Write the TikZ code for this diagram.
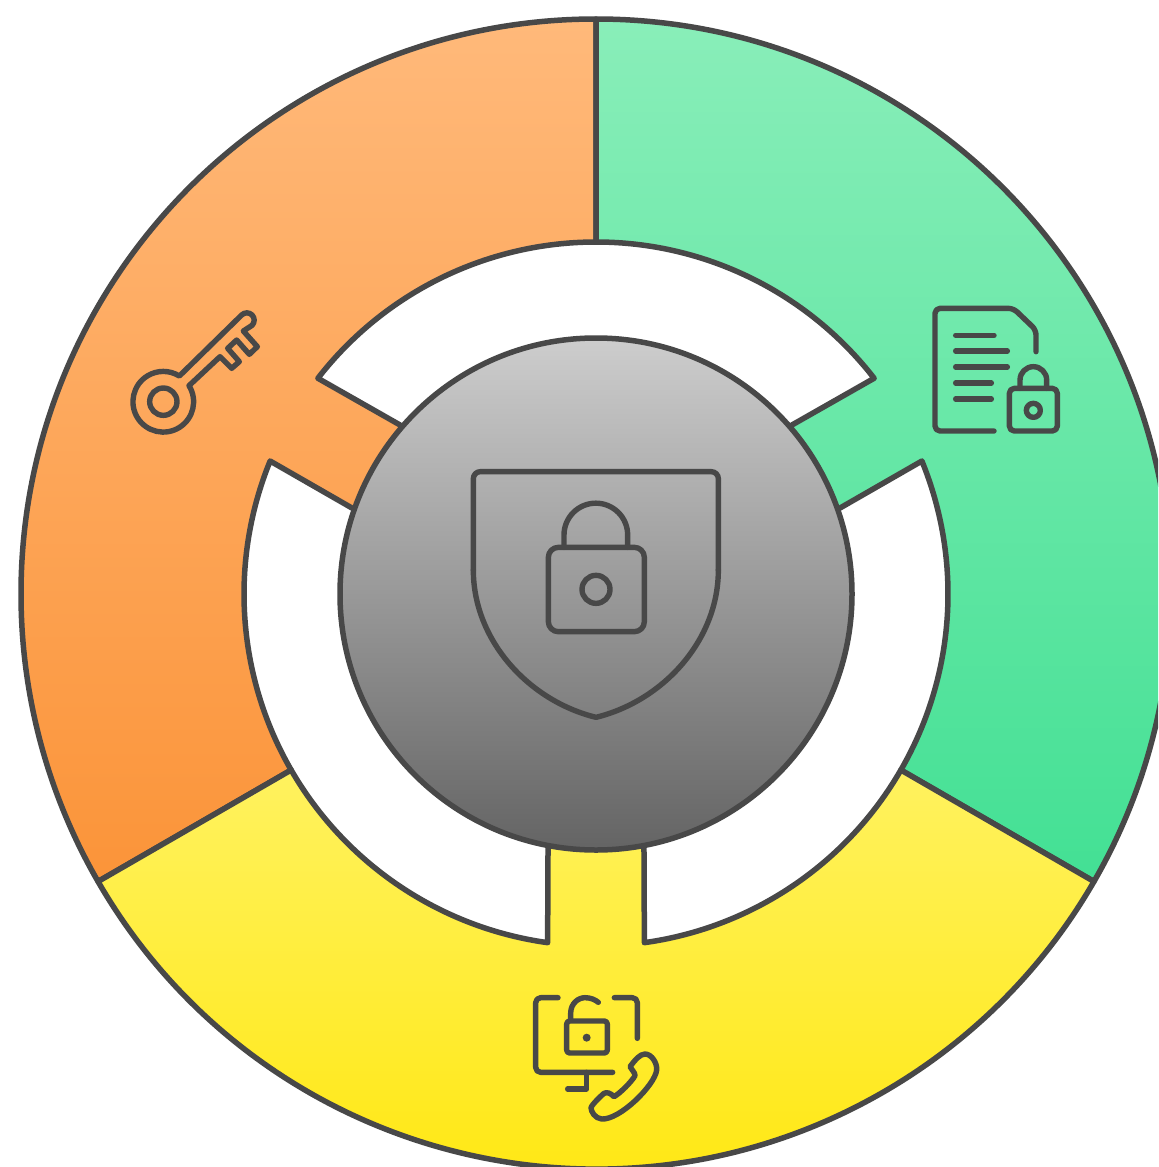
\documentclass[tikz,border=0pt]{standalone}
\definecolor{ink}{HTML}{484848}
\definecolor{greenT}{HTML}{89EEB9}
\definecolor{greenB}{HTML}{43E094}
\definecolor{orangeT}{HTML}{FFB97A}
\definecolor{orangeB}{HTML}{FB9439}
\definecolor{yellowT}{HTML}{FFF25F}
\definecolor{yellowB}{HTML}{FFE607}
\definecolor{greyT}{HTML}{CDCDCD}
\definecolor{greyB}{HTML}{646464}
\tikzset{
  seg/.style={draw=ink,line width=2.75pt,line join=round},
  thinline/.style={draw=ink,line width=2.7pt,line cap=round,line join=round},
  zoomed/.style={x=.16667pt,y=.16667pt}
}
\begin{document}
\begin{tikzpicture}[x=.5pt,y=.5pt]
\useasboundingbox (0,0) rectangle (1158,-1167);
\clip (0,0) rectangle (1158,-1167);
\fill[white] (0,0) rectangle (1158,-1167);
\begin{scope}[shift={(596,-594)}]
  % orange
  \path[seg,top color=orangeT,bottom color=orangeB]
    (90:575) arc (90:210:575) -- (210:352) arc (210:157.8:352)
    -- (160.7:256) -- (139.1:256) -- (142.2:352) arc (142.2:90:352) -- cycle;
  % green
  \path[seg,top color=greenT,bottom color=greenB]
    (90:575) arc (90:-30:575) -- (-30:352) arc (-30:22.2:352)
    -- (19.3:256) -- (40.9:256) -- (37.8:352) arc (37.8:90:352) -- cycle;
  % yellow
  \path[seg,top color=yellowT,bottom color=yellowB]
    (210:575) arc (210:330:575) -- (330:352) arc (330:277.9:352)
    -- (280.8:256) -- (259.2:256) -- (262.1:352) arc (262.1:210:352) -- cycle;
  % centre
  \path[seg,top color=greyT,bottom color=greyB] (0,0) circle (256);
\end{scope}
% key
\begin{scope}[shift={(120,-295)},zoomed]
  \draw[thinline] (130,-320) circle (41);
  \draw[thinline] (207,-272) arc (32:-302:91)
    -- (365,-60) arc (135:-45:22) -- (370,-108) -- (412,-155) -- (388,-178)
    -- (350,-135) -- (323,-160) -- (358,-200) -- (335,-220) -- (300,-185) -- cycle;
\end{scope}
% document with lock
\begin{scope}[shift={(920,-295)},zoomed]
  \draw[thinline,rounded corners=2.5pt] (222,-408) -- (45,-408) -- (45,-40) -- (280,-40) -- (348,-105) -- (348,-170);
  \draw[thinline] (107,-121) -- (222,-121) (107,-168) -- (262,-168) (107,-216) -- (262,-216)
    (107,-264) -- (214,-264) (107,-312) -- (214,-312);
  \draw[thinline,rounded corners=2.5pt] (268,-280) rectangle (412,-408);
  \draw[thinline] (300,-280) -- (300,-255) arc (180:0:40) -- (380,-280);
  \draw[thinline] (340,-346) circle (21);
\end{scope}
% monitor with phone
\begin{scope}[shift={(520,-985)},zoomed]
  \draw[thinline,rounded corners=2.5pt] (114,-38) -- (47,-38) -- (47,-262) -- (278,-262);
  \draw[thinline,rounded corners=2.5pt] (283,-38) -- (352,-38) -- (352,-160);
  \draw[thinline] (200,-262) -- (200,-312) -- (143,-312);
  \draw[thinline,rounded corners=1.5pt] (140,-108) rectangle (262,-204);
  \draw[thinline] (152,-105) -- (152,-85) .. controls (152,-55) and (175,-38) .. (195,-38)
    .. controls (212,-38) and (225,-44) .. (235,-52);
  \fill[ink] (200,-158) circle (12);
  \draw[thinline] (330,-245) .. controls (345,-225) and (360,-207) .. (375,-207)
    .. controls (395,-207) and (412,-235) .. (410,-255)
    .. controls (405,-300) and (300,-405) .. (245,-402)
    .. controls (225,-400) and (213,-380) .. (213,-368)
    .. controls (215,-360) and (240,-335) .. (252,-325)
    .. controls (262,-320) and (272,-325) .. (282,-335)
    .. controls (300,-325) and (335,-290) .. (345,-272)
    .. controls (345,-262) and (335,-255) .. (330,-245) -- cycle;
\end{scope}
% shield with lock
\begin{scope}[shift={(460,-460)},zoomed]
  \draw[thinline,rounded corners=3.5pt] (40,-330) -- (40,-35) -- (775,-35) -- (775,-330);
  \draw[thinline] (40,-330) .. controls (40,-540) and (205,-722) .. (408,-772)
    .. controls (611,-722) and (775,-540) .. (775,-330);
  \draw[thinline,rounded corners=5pt] (265,-262) rectangle (553,-515);
  \draw[thinline] (312,-262) -- (312,-225) arc (180:0:95.5) -- (503,-262);
  \draw[thinline] (408,-388) circle (42);
\end{scope}
\end{tikzpicture}
\end{document}
